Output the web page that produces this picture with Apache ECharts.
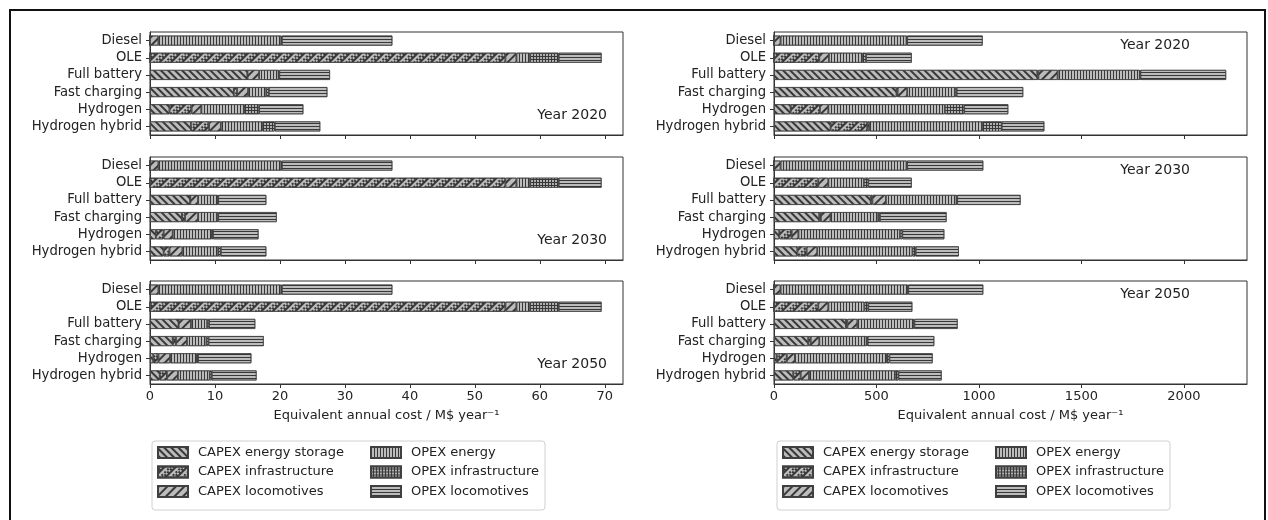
<!DOCTYPE html>
<html>
<head>
<meta charset="utf-8">
<script src="https://cdn.jsdelivr.net/npm/echarts@6/dist/echarts.min.js"></script>
<style>html,body{margin:0;padding:0;background:#fff}#c{width:1268px;height:520px}</style>
</head>
<body>
<div id="c"></div>
<script>
const categories = ['Diesel', 'OLE', 'Full battery', 'Fast charging', 'Hydrogen', 'Hydrogen hybrid'];
const componentNames = ['CAPEX energy storage', 'CAPEX infrastructure', 'CAPEX locomotives', 'OPEX energy', 'OPEX infrastructure', 'OPEX locomotives'];
const leftTicks = [0, 10, 20, 30, 40, 50, 60, 70];
const rightTicks = [0, 500, 1000, 1500, 2000];
const xAxisTitle = 'Equivalent annual cost / M$ year\u207B\u00B9';
const yearLabels = ['Year 2020', 'Year 2030', 'Year 2050'];

// rows: components (order as componentNames), columns: categories
const left2020 = [
  [0, 0, 15.0, 12.9, 3.0, 6.3],
  [0, 54.7, 0, 0.5, 3.4, 2.8],
  [1.3, 1.7, 1.8, 1.7, 1.5, 1.8],
  [18.9, 2.1, 3.0, 2.8, 6.6, 6.4],
  [0.1, 4.4, 0.1, 0.4, 2.3, 1.9],
  [17.0, 6.6, 7.8, 9.0, 6.8, 7.0]
];
const left2030 = [
  [0, 0, 6.2, 4.9, 0.9, 2.1],
  [0, 54.7, 0, 0.5, 1.2, 0.9],
  [1.3, 1.7, 1.2, 2.0, 1.4, 2.0],
  [18.9, 2.1, 3.0, 2.9, 6.0, 5.5],
  [0.1, 4.4, 0.1, 0.2, 0.2, 0.4],
  [17.0, 6.6, 7.4, 9.0, 7.0, 7.0]
];
const left2050 = [
  [0, 0, 4.4, 3.5, 0.5, 1.5],
  [0, 54.7, 0, 0.5, 0.8, 1.1],
  [1.3, 1.7, 1.9, 1.7, 1.8, 1.7],
  [18.9, 2.1, 2.5, 3.0, 4.1, 4.9],
  [0.1, 4.4, 0.3, 0.3, 0.2, 0.3],
  [17.0, 6.6, 7.1, 8.5, 8.2, 6.9]
];
const right2020 = [
  [0, 0, 1285, 598, 81, 276],
  [0, 221, 5, 5, 143, 179],
  [32, 47, 94, 47, 41, 10],
  [615, 163, 401, 233, 569, 551],
  [3, 18, 3, 8, 94, 95],
  [368, 223, 418, 325, 215, 208]
];
const right2030 = [
  [0, 0, 472, 221, 26, 114],
  [0, 216, 8, 8, 60, 45],
  [32, 49, 66, 47, 33, 52],
  [615, 174, 345, 233, 496, 465],
  [3, 21, 3, 8, 11, 15],
  [371, 212, 309, 325, 205, 211]
];
const right2050 = [
  [0, 0, 351, 167, 13, 94],
  [0, 216, 7, 12, 49, 36],
  [32, 49, 49, 42, 40, 41],
  [620, 176, 273, 231, 448, 419],
  [3, 19, 5, 5, 13, 17],
  [366, 215, 211, 325, 211, 211]
];

const FONT = 'DejaVu Sans';
const TXT = '#222';
const AX = '#333';
const FILL = '#bcbcbc';
const HATCH = '#383838';

const decals = [
  {color: HATCH, dashArrayX: [1, 0], dashArrayY: [1.3, 2.6], rotation: Math.PI / 4},
  {color: HATCH, dashArrayX: [[1.6, 1.6], [0, 1.6, 1.6]], dashArrayY: [1.6, 0], rotation: Math.PI / 4},
  {color: HATCH, dashArrayX: [1, 0], dashArrayY: [1.3, 3.5], rotation: -Math.PI / 4},
  {color: HATCH, dashArrayX: [1, 2], dashArrayY: [10, 0], rotation: 0},
  {color: '#b0b0b0', dashArrayX: [2, 1], dashArrayY: [2, 1], rotation: 0},
  {color: HATCH, dashArrayX: [10, 0], dashArrayY: [1, 2], rotation: 0}
];
const fills = [FILL, FILL, FILL, FILL, '#383838', FILL];

const panels = [
  {data: left2020, side: 'L', row: 0},
  {data: left2030, side: 'L', row: 1},
  {data: left2050, side: 'L', row: 2},
  {data: right2020, side: 'R', row: 0},
  {data: right2030, side: 'R', row: 1},
  {data: right2050, side: 'R', row: 2}
];
const rowTops = [32, 157, 281];
const gridH = 103;
const gridW = 473;
const lefts = {L: 150, R: 774};

const grids = [], xAxes = [], yAxes = [], series = [], graphics = [];
panels.forEach((p, i) => {
  const isL = p.side === 'L';
  const bottom = p.row === 2;
  grids.push({left: lefts[p.side], top: rowTops[p.row], width: gridW, height: gridH,
    show: true, borderColor: AX, borderWidth: 1, backgroundColor: 'transparent'});
  const ticks = isL ? leftTicks : rightTicks;
  xAxes.push({
    type: 'value', gridIndex: i, min: 0, max: isL ? 72.8 : 2308,
    splitLine: {show: false},
    axisLine: {show: true, lineStyle: {color: AX, width: 1}},
    axisTick: {show: true, length: 4, lineStyle: {color: AX}, customValues: ticks},
    axisLabel: {show: bottom, customValues: ticks, formatter: v => String(v),
      fontFamily: FONT, fontSize: 13, color: TXT, margin: 6},
    name: bottom ? xAxisTitle : '',
    nameLocation: 'middle', nameGap: 25,
    nameTextStyle: {fontFamily: FONT, fontSize: 13, color: TXT}
  });
  yAxes.push({
    type: 'category', gridIndex: i, data: categories, inverse: true,
    axisLine: {show: true, lineStyle: {color: AX, width: 1}},
    axisTick: {show: true, length: 4, alignWithLabel: true, lineStyle: {color: AX}},
    axisLabel: {fontFamily: FONT, fontSize: 13.2, color: TXT, margin: 8},
    splitLine: {show: false}
  });
  p.data.forEach((vals, c) => {
    series.push({
      type: 'bar', name: componentNames[c], xAxisIndex: i, yAxisIndex: i,
      stack: 'panel' + i, data: vals, barWidth: 10,
      itemStyle: {color: fills[c], borderColor: '#404040', borderWidth: 0.7, decal: decals[c]},
      emphasis: {disabled: true}
    });
  });
  graphics.push({
    type: 'text', silent: true,
    x: isL ? 607 : 1190,
    y: isL ? rowTops[p.row] + 83 : rowTops[p.row] + 13,
    style: {text: yearLabels[p.row], font: '14px "DejaVu Sans"', fill: TXT, align: 'right', verticalAlign: 'middle'}
  });
});

graphics.push({type: 'rect', silent: true, shape: {x: 10, y: 10, width: 1255, height: 530},
  style: {fill: 'none', stroke: '#111', lineWidth: 2}});
// legend frames
[152, 777].forEach(x => {
  graphics.push({type: 'rect', silent: true, shape: {x: x, y: 441, width: 393, height: 69, r: 3},
    style: {fill: '#fff', stroke: '#d0d0d0', lineWidth: 1}, z: -1});
});

const legendBase = {
  orient: 'vertical', itemGap: 6.5,
  icon: 'rect', itemWidth: 30, itemHeight: 11,
  padding: 0,
  textStyle: {fontFamily: FONT, fontSize: 13, color: TXT, padding: [0, 0, 0, 5]},
  selectedMode: false, z: 5
};
const capexNames = componentNames.slice(0, 3);
const opexNames = componentNames.slice(3);

const chart = echarts.init(document.getElementById('c'), null, {renderer: 'canvas'});
chart.setOption({
  animation: false,
  backgroundColor: '#fff',
  textStyle: {fontFamily: FONT},
  grid: grids, xAxis: xAxes, yAxis: yAxes, series: series,
  legend: [
    Object.assign({}, legendBase, {data: capexNames, left: 157, top: 446}),
    Object.assign({}, legendBase, {data: opexNames, left: 370, top: 446}),
    Object.assign({}, legendBase, {data: capexNames, left: 782, top: 446}),
    Object.assign({}, legendBase, {data: opexNames, left: 995, top: 446})
  ],
  graphic: graphics
});
</script>
</body>
</html>
